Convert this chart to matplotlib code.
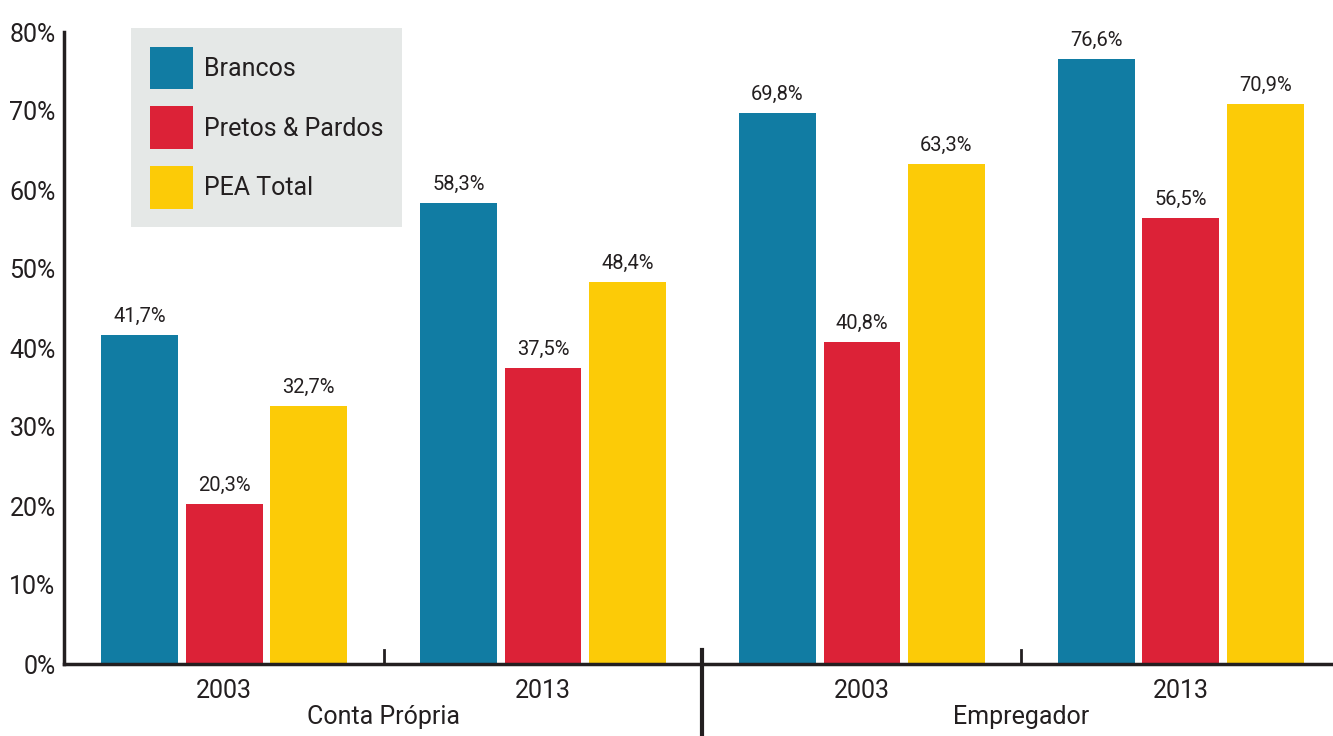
import numpy as np
import matplotlib
matplotlib.use("Agg")
import matplotlib.pyplot as plt

plt.rcParams['font.family'] = ['Roboto', 'DejaVu Sans']

# data
years = ['2003', '2013', '2003', '2013']
groups = ['Conta Própria', 'Empregador']
series = ['Brancos', 'Pretos & Pardos', 'PEA Total']
brancos = [41.7, 58.3, 69.8, 76.6]
pretos_pardos = [20.3, 37.5, 40.8, 56.5]
pea_total = [32.7, 48.4, 63.3, 70.9]
yticks = [0, 10, 20, 30, 40, 50, 60, 70, 80]

colors = ['#117ca3', '#dc2237', '#fccb07']
dark = '#231f20'

fig = plt.figure(figsize=(13.33, 7.36), dpi=100)
ax = fig.add_axes([64 / 1333, 72 / 736, 1269 / 1333, 632 / 736])

x = np.arange(len(years))
width = 0.241
pitch = 0.265
for i, (vals, name) in enumerate(zip([brancos, pretos_pardos, pea_total], series)):
    pos = x + (i - 1) * pitch
    ax.bar(pos, vals, width=width, color=colors[i], label=name, zorder=2)
    for p, v in zip(pos, vals):
        ax.annotate(f"{v:.1f}%".replace('.', ','), (p, v), xytext=(0, 6.5),
                    textcoords='offset points', ha='center', va='bottom',
                    fontsize=14.5, color=dark)

ax.set_xlim(-0.502, 3.477)
ax.set_ylim(0, 80)
ax.set_yticks(yticks)
ax.set_yticklabels([f"{t}%" for t in yticks], fontsize=18, color=dark)
ax.tick_params(axis='y', length=0, pad=6)
ax.set_xticks(x)
ax.set_xticklabels(years, fontsize=18, color=dark)
ax.tick_params(axis='x', length=0, pad=11)

for s in ['top', 'right']:
    ax.spines[s].set_visible(False)
for s in ['left', 'bottom']:
    ax.spines[s].set_linewidth(2.5)
    ax.spines[s].set_color(dark)
ax.spines['bottom'].set_zorder(3)

# small ticks between years, and the separator between groups
for xs in [0.5, 2.5]:
    ax.plot([xs, xs], [0, 1.8], color=dark, lw=2, clip_on=False, zorder=3)
ax.plot([1.5, 1.5], [1.8, -9.2], color=dark, lw=3, clip_on=False, zorder=3)

for gx, g in zip([0.5, 2.5], groups):
    ax.annotate(g, (gx, 0), xytext=(0, -38.5), textcoords='offset points',
                ha='center', va='center', fontsize=18, color=dark,
                annotation_clip=False)

leg = ax.legend(loc='upper left', bbox_to_anchor=(0.0528, 1.006),
                borderaxespad=0, fontsize=18, frameon=True, fancybox=False,
                handlelength=1.72, handleheight=2.24, handletextpad=0.45,
                labelspacing=0.68, borderpad=0.75)
leg.get_frame().set_facecolor('#e5e8e7')
leg.get_frame().set_edgecolor('none')
leg.get_frame().set_alpha(1)
for t in leg.get_texts():
    t.set_color(dark)

fig.savefig('out.png', dpi=100)
